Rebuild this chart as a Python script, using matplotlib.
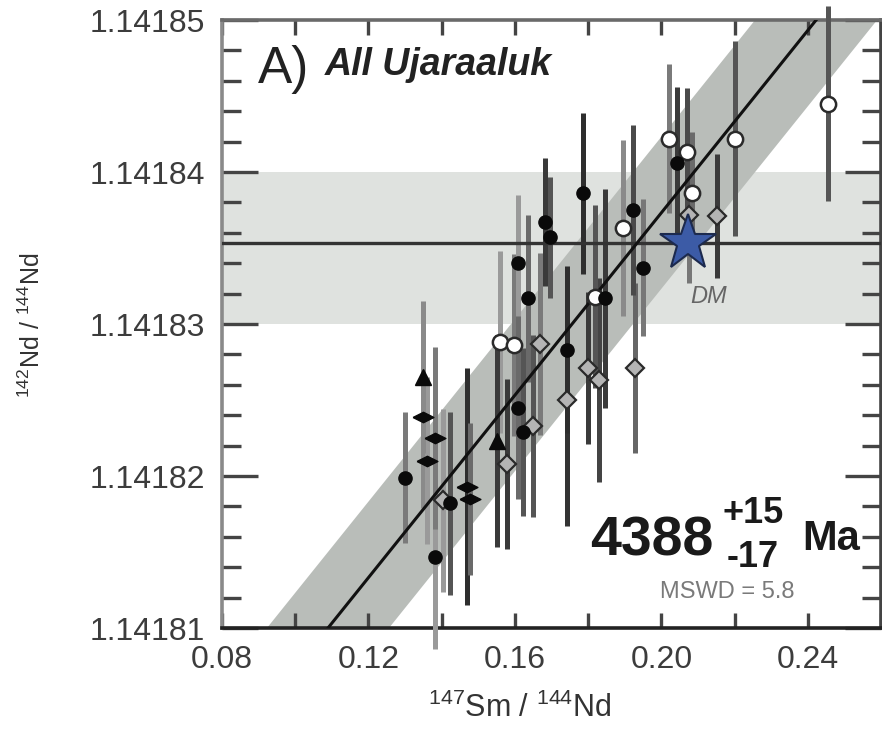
import matplotlib
matplotlib.use("Agg")
import matplotlib.pyplot as plt
import numpy as np
from matplotlib.ticker import MultipleLocator, FormatStrFormatter

plt.rcParams['font.family'] = ['Liberation Sans', 'DejaVu Sans']
plt.rcParams['mathtext.fontset'] = 'custom'
plt.rcParams['mathtext.rm'] = 'Liberation Sans'
plt.rcParams['mathtext.it'] = 'Liberation Sans:italic'
plt.rcParams['mathtext.bf'] = 'Liberation Sans:bold'

# --- 147Sm/144Nd vs 142Nd/144Nd, Ujaraaluk samples ---
black_x = [0.1786, 0.1682, 0.1696, 0.1609, 0.1636, 0.1846, 0.1923, 0.1950,
           0.2043, 0.1742, 0.1609, 0.1622, 0.1300, 0.1423, 0.1382]
black_y = [1.1418386, 1.1418367, 1.1418357, 1.1418340, 1.1418317, 1.1418317,
           1.1418375, 1.1418337, 1.1418406, 1.1418283, 1.1418245, 1.1418229,
           1.1418199, 1.1418182, 1.1418147]
black_err = [5.3e-6, 4.2e-6, 4.0e-6, 4.5e-6, 5.5e-6, 7.2e-6, 5.6e-6, 4.5e-6,
             5.0e-6, 5.5e-6, 6.0e-6, 5.5e-6, 4.3e-6, 6.0e-6, 6.1e-6]

lozenge_x = [0.1349, 0.1382, 0.1360, 0.1469, 0.1477]
lozenge_y = [1.1418239, 1.1418225, 1.1418210, 1.1418193, 1.1418185]
lozenge_err = [6.0e-6, 6.0e-6, 5.5e-6, 7.8e-6, 5.0e-6]

tri_x = [0.1349, 0.1551]
tri_y = [1.1418265, 1.1418223]
tri_err = [5.0e-6, 7.0e-6]

white_x = [0.1559, 0.1598, 0.1819, 0.1895, 0.2021, 0.2070, 0.2084, 0.2201, 0.2455]
white_y = [1.1418288, 1.1418286, 1.1418318, 1.1418363, 1.1418422, 1.1418413,
           1.1418386, 1.1418422, 1.1418445]
white_err = [6.0e-6, 6.0e-6, 6.0e-6, 5.8e-6, 4.9e-6, 4.2e-6, 4.0e-6, 6.4e-6, 6.4e-6]

gray_x = [0.1669, 0.1800, 0.1830, 0.1928, 0.1742, 0.1650, 0.1578, 0.2076, 0.2152, 0.1404]
gray_y = [1.1418287, 1.1418271, 1.1418263, 1.1418271, 1.1418250, 1.1418233,
          1.1418208, 1.1418372, 1.1418371, 1.1418184]
gray_err = [6.0e-6, 5.0e-6, 6.7e-6, 5.6e-6, 8.3e-6, 6.0e-6, 5.6e-6, 4.5e-6, 4.1e-6, 6.0e-6]

# depleted mantle reference
dm_x = 0.2073
dm_y = 1.1418353
dm_band = (1.14183, 1.14184)

# isochron fit
iso_slope = 3.0e-4
iso_x0 = 0.10895          # x where the fit crosses 1.14181
iso_y0 = 1.14181
iso_halfwidth = 5.0e-6

x_ticks = [0.08, 0.12, 0.16, 0.20, 0.24]
y_ticks = [1.14181, 1.14182, 1.14183, 1.14184, 1.14185]

# bar shades for each group
black_shade = ['#2e2e2e', '#3a3a3a', '#555555', '#9a9a9a', '#6a6a6a', '#3a3a3a',
               '#4a4a4a', '#777777', '#3a3a3a', '#2e2e2e', '#6a6a6a', '#555555',
               '#7a7a7a', '#555555', '#9a9a9a']
lozenge_shade = ['#8a8a8a', '#7a7a7a', '#9a9a9a', '#2e2e2e', '#6a6a6a']
tri_shade = ['#8a8a8a', '#3a3a3a']
white_shade = ['#9a9a9a', '#7a7a7a', '#555555', '#8a8a8a', '#7a7a7a', '#4a4a4a',
               '#6a6a6a', '#555555', '#555555']
gray_shade = ['#7a7a7a', '#3a3a3a', '#444444', '#666666', '#333333', '#555555',
              '#3a3a3a', '#777777', '#3a3a3a', '#9a9a9a']

fig = plt.figure(figsize=(8.82, 7.31), dpi=100)
ax = fig.add_axes([222/882, 1 - 628/731, 659/882, 608/731])
ax.set_xlim(0.08, 0.26)
ax.set_ylim(1.14181, 1.14185)

# DM band and line
ax.axhspan(dm_band[0], dm_band[1], color='#dfe2df', zorder=0.5, lw=0)
ax.axhline(dm_y, color='#333333', lw=2.4, zorder=3.5)

# isochron envelope and line
xs = np.array([0.06, 0.30])
ys = iso_y0 + iso_slope * (xs - iso_x0)
ax.fill_between(xs, ys - iso_halfwidth, ys + iso_halfwidth, color='#b9bdb9', lw=0, zorder=1)
ax.plot(xs, ys, color='#111111', lw=2.2, zorder=3.6)


def bars(xv, yv, ev, shades):
    for x, y, e, c in zip(xv, yv, ev, shades):
        cont = ax.errorbar([x], [y], yerr=[e], fmt='none', ecolor=c,
                           elinewidth=3.6, capsize=0, zorder=3)
        for coll in cont.lines[2]:
            coll.set_clip_on(False)


bars(gray_x, gray_y, gray_err, gray_shade)
bars(white_x, white_y, white_err, white_shade)
bars(black_x, black_y, black_err, black_shade)
bars(lozenge_x, lozenge_y, lozenge_err, lozenge_shade)
bars(tri_x, tri_y, tri_err, tri_shade)

lozenge_marker = [(-1, 0), (0, 0.5), (1, 0), (0, -0.5), (-1, 0)]

ax.plot(gray_x, gray_y, 'D', ms=9.5, mfc='#b4b4b4', mec='#2a2a2a', mew=1.6,
        ls='none', zorder=5)
ax.plot(white_x, white_y, 'o', ms=11, mfc='white', mec='#2a2a2a', mew=1.8,
        ls='none', zorder=5)
ax.plot(black_x, black_y, 'o', ms=9.5, mfc='#0a0a0a', mec='#0a0a0a', mew=1,
        ls='none', zorder=5.2)
ax.plot(lozenge_x, lozenge_y, marker=lozenge_marker, ms=15, mfc='#0a0a0a',
        mec='#0a0a0a', mew=1, ls='none', zorder=5.2)
ax.plot(tri_x, tri_y, '^', ms=11, mfc='#0a0a0a', mec='#0a0a0a', ls='none', zorder=5.2)

ax.plot([dm_x], [dm_y], '*', ms=42, mfc='#3c5ba6', mec='#1c2a4e', mew=1.5, zorder=6)
ax.text(0.710, 0.5345, 'DM', transform=ax.transAxes, fontsize=17, color='#666666',
        style='italic', ha='left', va='baseline', zorder=7)

# axes styling
for side, col in [('left', '#8a8a8a'), ('top', '#6a6a6a'), ('bottom', '#222222'),
                  ('right', '#444444')]:
    ax.spines[side].set_color(col)
    ax.spines[side].set_linewidth(2.6)

ax.set_xticks(x_ticks)
ax.set_yticks(y_ticks)
ax.xaxis.set_minor_locator(MultipleLocator(0.02))
ax.yaxis.set_minor_locator(MultipleLocator(2e-6))
ax.xaxis.set_major_formatter(FormatStrFormatter('%.2f'))
ax.yaxis.set_major_formatter(FormatStrFormatter('%.5f'))
ax.tick_params(which='both', direction='in', top=True, right=True, color='#444444',
               width=2.4, labelsize=23, labelcolor='#3c3c3c', pad=12)
ax.tick_params(axis='x', which='both', length=11)
ax.tick_params(axis='y', which='major', length=26)
ax.tick_params(axis='y', which='minor', length=14)

ax.set_xlabel(r'$^{147}$Sm / $^{144}$Nd', fontsize=22, color='#333333')
ax.xaxis.set_label_coords(0.452, -0.1065)
ax.set_ylabel(r'$^{142}$Nd / $^{144}$Nd', fontsize=18, color='#333333')
ax.yaxis.set_label_coords(-0.268, 0.498)

# panel title
ax.text(0.0546, 0.896, 'A)', transform=ax.transAxes, fontsize=37, color='#222222',
        ha='left', va='baseline')
ax.text(0.156, 0.9095, 'All Ujaraaluk', transform=ax.transAxes, fontsize=27,
        fontweight='bold', style='italic', color='#222222', ha='left', va='baseline')

# age annotation
ax.text(0.558, 0.120, '4388', transform=ax.transAxes, fontsize=40, fontweight='bold',
        color='#1a1a1a', ha='left', va='baseline')
ax.text(0.760, 0.1727, '+15', transform=ax.transAxes, fontsize=26, fontweight='bold',
        color='#1a1a1a', ha='left', va='baseline')
ax.text(0.766, 0.1003, '-17', transform=ax.transAxes, fontsize=26, fontweight='bold',
        color='#1a1a1a', ha='left', va='baseline')
ax.text(0.880, 0.128, 'Ma', transform=ax.transAxes, fontsize=30, fontweight='bold',
        color='#1a1a1a', ha='left', va='baseline')
ax.text(0.665, 0.049, 'MSWD = 5.8', transform=ax.transAxes, fontsize=17,
        color='#7a7a7a', ha='left', va='baseline')

fig.savefig('out.png', dpi=100)
